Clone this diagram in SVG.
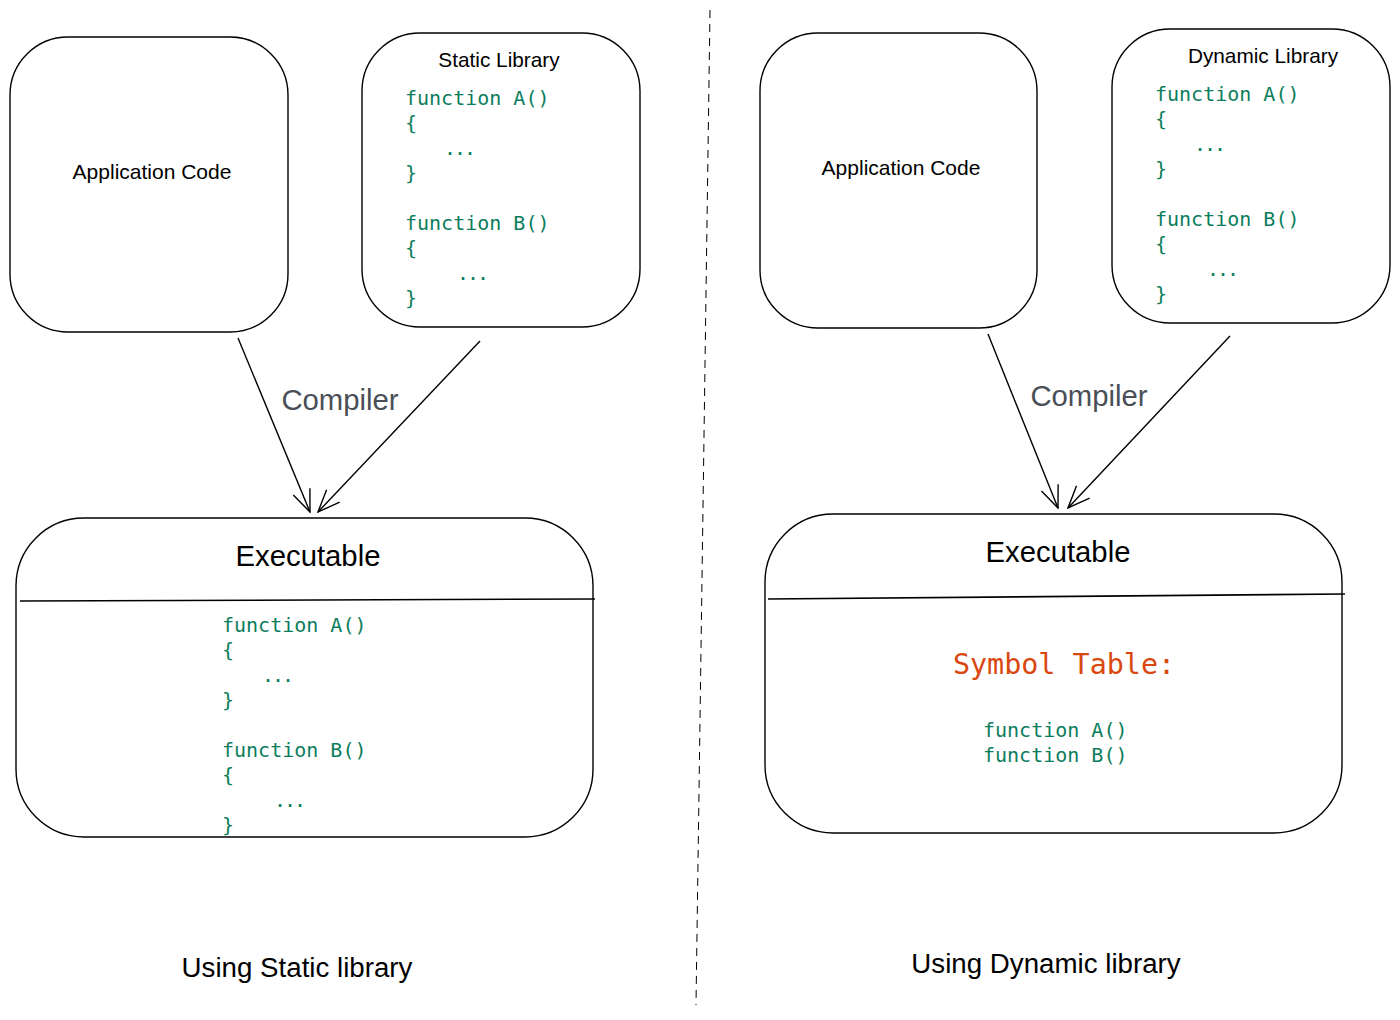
<svg xmlns="http://www.w3.org/2000/svg" width="1400" height="1020" viewBox="0 0 1400 1020">
<defs>
<style>
.box{fill:#fff;stroke:#000;stroke-width:1.4}
.div{stroke:#000;stroke-width:1.6}
.lbl{font-family:"Liberation Sans",Arial,sans-serif;fill:#000}
.code{font-family:"DejaVu Sans Mono","Liberation Mono",monospace;font-size:20px;fill:#0b7d5c}
.dots{letter-spacing:-2px}
.comp{font-family:"Liberation Sans",Arial,sans-serif;font-size:29.3px;fill:#4a4f57}
.sym{font-family:"DejaVu Sans Mono","Liberation Mono",monospace;font-size:28.4px;fill:#d9480f}
.conn{stroke:#000;stroke-width:1.4;fill:none}
</style>
<marker id="arr" viewBox="0 0 24 24" refX="23" refY="12" markerWidth="24" markerHeight="24" markerUnits="userSpaceOnUse" orient="auto">
<path d="M1,3 L23,12 L1,21" fill="none" stroke="#000" stroke-width="1.4"/>
</marker>
</defs>
<rect width="1400" height="1020" fill="#fff"/>

<line x1="710" y1="10" x2="696" y2="1005" stroke="#000" stroke-width="1" stroke-dasharray="8 6"/>

<g id="app-left">
<rect class="box" x="10" y="37" width="278" height="295" rx="58"/>
<text class="lbl" x="152" y="179" font-size="21" text-anchor="middle">Application Code</text>
</g>

<g id="static-lib">
<rect class="box" x="362" y="33" width="278" height="294" rx="58"/>
<text class="lbl" x="499" y="67" font-size="20.8" text-anchor="middle">Static Library</text>
<text class="code" x="405" y="105">function A()</text>
<text class="code" x="405" y="130">{</text>
<text class="code dots" x="444" y="155">...</text>
<text class="code" x="405" y="180">}</text>
<text class="code" x="405" y="230">function B()</text>
<text class="code" x="405" y="255">{</text>
<text class="code dots" x="457" y="280">...</text>
<text class="code" x="405" y="305">}</text>
</g>

<g id="exec-left">
<rect class="box" x="16" y="518" width="577" height="319" rx="68"/>
<line class="div" x1="20" y1="601" x2="595" y2="599"/>
<text class="lbl" x="308" y="566" font-size="29.3" text-anchor="middle">Executable</text>
<text class="code" x="222" y="632">function A()</text>
<text class="code" x="222" y="657">{</text>
<text class="code dots" x="262" y="682">...</text>
<text class="code" x="222" y="707">}</text>
<text class="code" x="222" y="757">function B()</text>
<text class="code" x="222" y="782">{</text>
<text class="code dots" x="274" y="807">...</text>
<text class="code" x="222" y="832">}</text>
</g>

<g id="app-right">
<rect class="box" x="760" y="33" width="277" height="295" rx="58"/>
<text class="lbl" x="901" y="175" font-size="21" text-anchor="middle">Application Code</text>
</g>

<g id="dynamic-lib">
<rect class="box" x="1112" y="29" width="278" height="294" rx="58"/>
<text class="lbl" x="1263" y="63" font-size="20.8" text-anchor="middle">Dynamic Library</text>
<text class="code" x="1155" y="101">function A()</text>
<text class="code" x="1155" y="126">{</text>
<text class="code dots" x="1194" y="151">...</text>
<text class="code" x="1155" y="176">}</text>
<text class="code" x="1155" y="226">function B()</text>
<text class="code" x="1155" y="251">{</text>
<text class="code dots" x="1207" y="276">...</text>
<text class="code" x="1155" y="301">}</text>
</g>

<g id="exec-right">
<rect class="box" x="765" y="514" width="577" height="319" rx="68"/>
<line class="div" x1="768" y1="599" x2="1345" y2="594"/>
<text class="lbl" x="1058" y="562" font-size="29.3" text-anchor="middle">Executable</text>
<text class="sym" x="1064" y="674" text-anchor="middle">Symbol Table:</text>
<text class="code" x="983" y="737">function A()</text>
<text class="code" x="983" y="762">function B()</text>
</g>

<g id="connectors">
<line class="conn" x1="238" y1="338" x2="310" y2="512" marker-end="url(#arr)"/>
<line class="conn" x1="480" y1="341" x2="318" y2="512" marker-end="url(#arr)"/>
<line class="conn" x1="988" y1="334" x2="1058" y2="508" marker-end="url(#arr)"/>
<line class="conn" x1="1230" y1="336" x2="1068" y2="508" marker-end="url(#arr)"/>
<text class="comp" x="340" y="410" text-anchor="middle">Compiler</text>
<text class="comp" x="1089" y="406" text-anchor="middle">Compiler</text>
</g>

<text class="lbl" x="297" y="977" font-size="27.7" text-anchor="middle">Using Static library</text>
<text class="lbl" x="1046" y="973" font-size="27.7" text-anchor="middle">Using Dynamic library</text>
</svg>
